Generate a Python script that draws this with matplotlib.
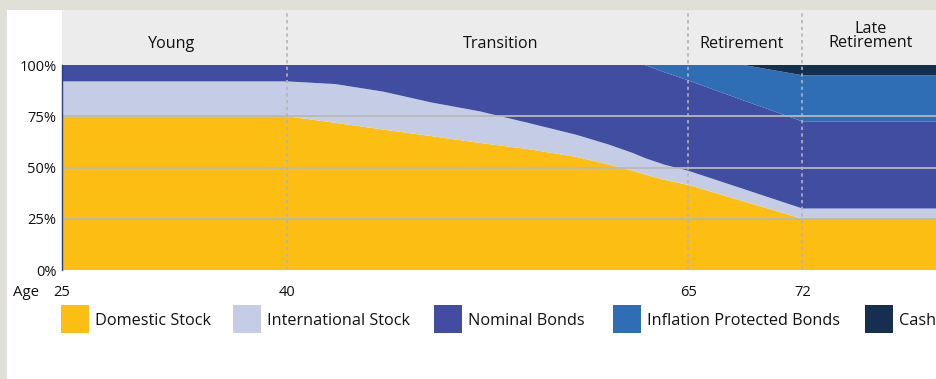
import numpy as np
import matplotlib
matplotlib.use("Agg")
import matplotlib.pyplot as plt
from matplotlib.patches import Rectangle

# ---------------- data ----------------
ages = [25, 40, 43, 46, 49, 52, 55, 58, 60, 61.5, 62.3, 63.5, 65, 68.4, 72, 81]
domestic_stock = [75, 75, 71.8, 68.5, 65.3, 62, 59, 55.2, 51.5, 48.5, 46.6, 44.0, 41.5, 33.5, 25, 25]
international_stock = [17, 17, 18.9, 18.5, 16.4, 15.4, 12.8, 10.8, 9.8, 8.7, 8.0, 7.4, 6.9, 6.0, 5, 5]
nominal_bonds = [8, 8, 9.3, 13, 18.3, 22.6, 28.2, 34, 38.7, 42.8, 45.4, 45.1, 44.1, 43.2, 42.5, 42.5]
inflation_protected_bonds = [0, 0, 0, 0, 0, 0, 0, 0, 0, 0, 0, 3.5, 7.5, 17.3, 22.5, 22.5]
cash = [0, 0, 0, 0, 0, 0, 0, 0, 0, 0, 0, 0, 0, 0, 5, 5]

series_names = ["Domestic Stock", "International Stock", "Nominal Bonds",
                "Inflation Protected Bonds", "Cash"]
series_colors = ["#FDBE14", "#C5CDE6", "#414DA0", "#2F6DB5", "#15304F"]

phase_labels = ["Young", "Transition", "Retirement", "Late\nRetirement"]
phase_centers = [32.3, 53.3, 68.3, 76.2]
phase_bounds = [40, 65, 72]
x_ticks = [25, 40, 65, 72]
y_ticks = [0, 25, 50, 75, 100]
y_tick_labels = ["0%", "25%", "50%", "75%", "100%"]

# ---------------- layout ----------------
W, H = 936, 379
FONT = "Open Sans"
plt.rcParams['font.family'] = [FONT, 'DejaVu Sans']
TXT = "#111111"

fig = plt.figure(figsize=(W / 100, H / 100), dpi=100)
fig.patch.set_facecolor("#E0E0D9")
fig.patches.append(Rectangle((7 / W, 0), 1, 1 - 10 / H, transform=fig.transFigure,
                             facecolor="white", edgecolor="none", zorder=-5))

def fx(px):
    return px / W

def fy(py):
    return 1 - py / H

# piecewise-linear age axis (as in the reference)
age_bp = [25, 40, 65, 72, 90]
pos_bp = [0, 225, 626, 740, 1033.4]

def fwd(x):
    return np.interp(x, age_bp, pos_bp)

def inv(x):
    return np.interp(x, pos_bp, age_bp)

x_left, x_right = 25, 80.2
y_top_px, y_bot_px = 65, 270

# header axis
axh = fig.add_axes([fx(62), fy(y_top_px), 1 - fx(62), (y_top_px - 10) / H])
axh.set_zorder(1)
axh.set_xscale('function', functions=(fwd, inv))
axh.set_xlim(x_left, x_right)
axh.set_ylim(0, 1)
axh.set_facecolor("#ECECEC")
for s in axh.spines.values():
    s.set_visible(False)
axh.set_xticks([])
axh.set_yticks([])
for lab, cx in zip(phase_labels, phase_centers):
    if "\n" in lab:
        axh.text(cx, 0.52, lab, ha='center', va='center', fontsize=11.6, color=TXT,
                 linespacing=0.82)
    else:
        axh.text(cx, 0.38, lab, ha='center', va='center', fontsize=11.6, color=TXT)

# main axis
ax = fig.add_axes([fx(62), fy(y_bot_px), 1 - fx(62), (y_bot_px - y_top_px) / H])
ax.set_zorder(2)
ax.set_xscale('function', functions=(fwd, inv))
ax.stackplot(ages, domestic_stock, international_stock, nominal_bonds,
             inflation_protected_bonds, cash, colors=series_colors, linewidth=0)
ax.set_xlim(x_left, x_right)
ax.set_ylim(0, 100)
ax.set_facecolor("none")

for g in [25, 50, 75]:
    ax.axhline(g, color="#B8B8B8", lw=1.3, zorder=3)

ext = (y_bot_px - 10) / (y_bot_px - y_top_px)
for b in phase_bounds:
    ax.axvline(b, ymin=0, ymax=ext, color="#B4B4B4", lw=1.2, ls=(0, (2, 2)),
               clip_on=False, zorder=4)

for k, s in ax.spines.items():
    s.set_visible(k == 'left')
ax.spines['left'].set_color("#2E3E7E")
ax.spines['left'].set_linewidth(1.0)
ax.spines['left'].set_zorder(5)

ax.set_yticks(y_ticks)
ax.set_yticklabels(y_tick_labels)
ax.set_xticks(x_ticks)
ax.set_xticklabels([str(t) for t in x_ticks])
ax.tick_params(axis='both', length=0, labelsize=10.5, colors=TXT)
ax.tick_params(axis='y', pad=4)
ax.tick_params(axis='x', pad=11)

fig.text(fx(26), fy(292), "Age", ha='center', va='center', fontsize=10.8, color=TXT)

# legend (manual)
legend_sq_x = [61, 233, 434, 613, 865]
sq = 28
for name, col, lx in zip(series_names, series_colors, legend_sq_x):
    fig.patches.append(Rectangle((fx(lx), fy(305 + sq)), sq / W, sq / H,
                                 transform=fig.transFigure, facecolor=col,
                                 edgecolor="none", zorder=2))
    fig.text(fx(lx + 34), fy(321), name, ha='left', va='center', fontsize=11.7,
             color=TXT)

fig.savefig("out.png", dpi=100, facecolor=fig.get_facecolor())
